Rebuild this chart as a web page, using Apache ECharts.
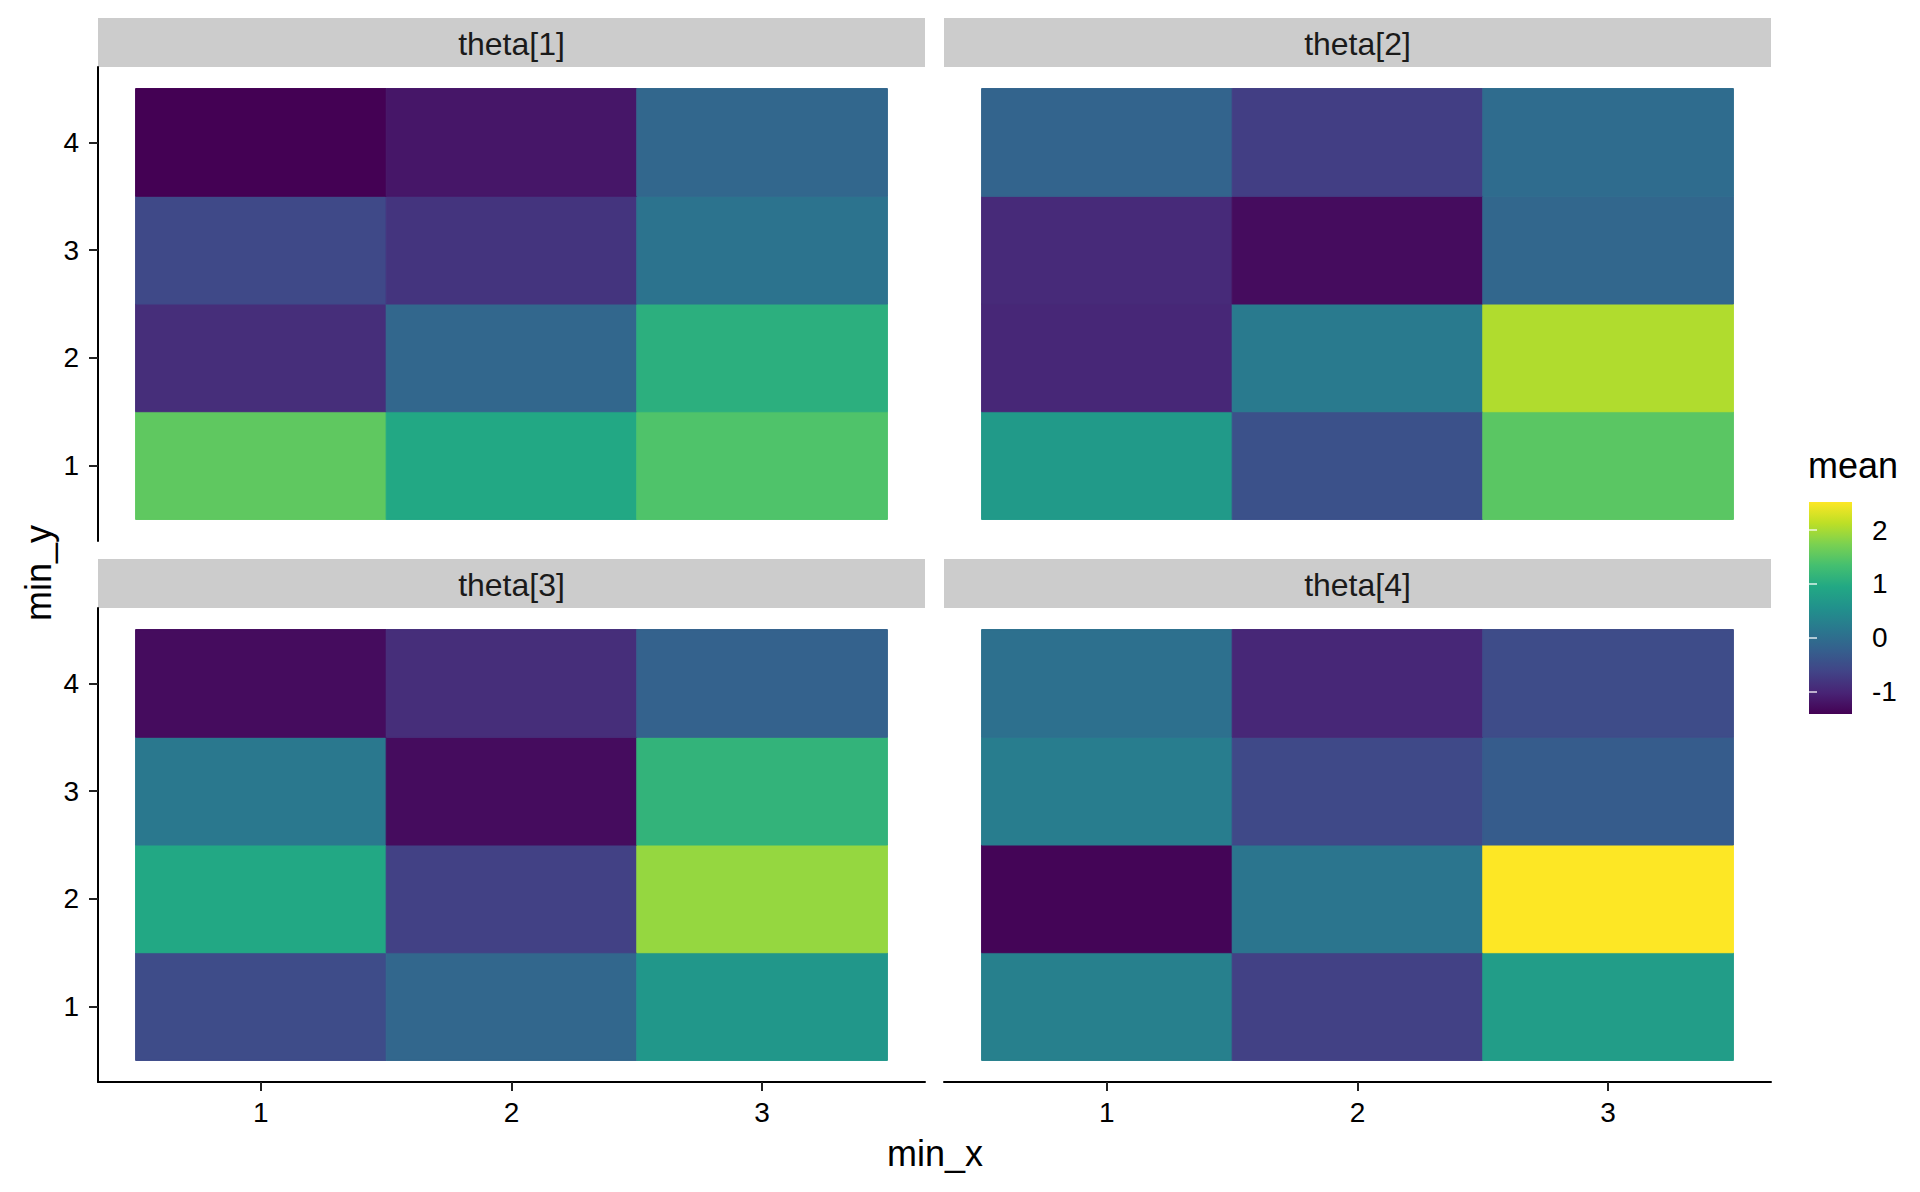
<!DOCTYPE html>
<html>
<head>
<meta charset="utf-8">
<title>mean by min_x / min_y</title>
<script src="https://cdn.jsdelivr.net/npm/echarts@6/dist/echarts.min.js"></script>
<style>
    html, body { margin: 0; padding: 0; background: #fff; }
    #chart { width: 1920px; height: 1192px; }
</style>
</head>
<body>
<div id="chart"></div>
<script>
// tick labels / categories
const xCats = [1, 2, 3];
const yCats = [1, 2, 3, 4];
const legendTicks = [-1, 0, 1, 2];
const panelNames = ['theta[1]', 'theta[2]', 'theta[3]', 'theta[4]'];

// mean values, one row per min_y (1..4), columns are min_x 1..3
const theta1 = [
    [1.54, 0.95, 1.42],
    [-0.90, -0.11, 1.06],
    [-0.55, -0.82, 0.08],
    [-1.41, -1.17, -0.11]
];
const theta2 = [
    [0.71, -0.43, 1.50],
    [-0.98, 0.20, 2.05],
    [-0.94, -1.29, -0.11],
    [-0.15, -0.70, -0.03]
];
const theta3 = [
    [-0.51, -0.11, 0.66],
    [0.95, -0.66, 1.89],
    [0.16, -1.29, 1.14],
    [-1.29, -0.90, -0.19]
];
const theta4 = [
    [0.28, -0.66, 0.76],
    [-1.37, 0.12, 2.52],
    [0.24, -0.55, -0.27],
    [0.04, -0.98, -0.51]
];
const panels = [theta1, theta2, theta3, theta4];

// viridis
const viridis = ['#440154', '#482475', '#414487', '#355F8D', '#2A788E', '#21918C',
    '#22A884', '#44BF70', '#7AD151', '#BDDF26', '#FDE725'];

const FONT = '"Liberation Sans", Arial, Helvetica, sans-serif';

// flatten to [x, y, value]
function toTiles(m) {
    let out = [];
    m.forEach(function (row, yi) {
        row.forEach(function (v, xi) {
            out.push([xCats[xi], yCats[yi], v]);
        });
    });
    return out;
}

let allVals = [];
panels.forEach(function (m) { m.forEach(function (r) { allVals = allVals.concat(r); }); });
const vMin = Math.min.apply(null, allVals);
const vMax = Math.max.apply(null, allVals);

// layout (px)
const colX = [98, 944];
const rowTop = [67, 608];
const panelW = 827;
const panelH = 474;
const stripH = 49;

let myChart = echarts.init(document.getElementById('chart'), null, { renderer: 'svg' });

let grids = [], xAxes = [], yAxes = [], series = [], graphics = [];

panels.forEach(function (m, i) {
    const col = i % 2, row = Math.floor(i / 2);
    grids.push({ left: colX[col], top: rowTop[row], width: panelW, height: panelH });

    xAxes.push({
        type: 'value', gridIndex: i, min: 0.35, max: 3.65,
        show: row === 1,
        splitLine: { show: false },
        axisLine: { show: true, onZero: false, lineStyle: { color: '#000', width: 2 } },
        axisTick: { show: true, customValues: xCats, length: 9, lineStyle: { color: '#222', width: 2 } },
        axisLabel: { customValues: xCats, margin: 16, fontSize: 28, color: '#000', fontFamily: FONT }
    });
    yAxes.push({
        type: 'value', gridIndex: i, min: 0.3, max: 4.7,
        show: col === 0,
        splitLine: { show: false },
        axisLine: { show: true, onZero: false, lineStyle: { color: '#000', width: 2 } },
        axisTick: { show: true, customValues: yCats, length: 9, lineStyle: { color: '#222', width: 2 } },
        axisLabel: { customValues: yCats, margin: 19, fontSize: 28, color: '#000', fontFamily: FONT }
    });

    series.push({
        type: 'custom',
        name: panelNames[i],
        xAxisIndex: i,
        yAxisIndex: i,
        data: toTiles(m),
        renderItem: function (params, api) {
            const x = api.value(0), y = api.value(1);
            const p0 = api.coord([x - 0.5, y + 0.5]);
            const p1 = api.coord([x + 0.5, y - 0.5]);
            const c = api.visual('color');
            return {
                type: 'rect',
                shape: { x: p0[0], y: p0[1], width: p1[0] - p0[0], height: p1[1] - p0[1] },
                style: { fill: c, stroke: c, lineWidth: 1 }
            };
        }
    });

    // facet strip
    graphics.push({
        type: 'rect',
        shape: { x: colX[col], y: rowTop[row] - stripH, width: panelW, height: stripH },
        style: { fill: '#CCCCCC' }
    });
    graphics.push({
        type: 'text',
        x: colX[col] + panelW / 2,
        y: rowTop[row] - stripH / 2 + 1,
        style: { text: panelNames[i], fontSize: 32, fontFamily: FONT, fill: '#1A1A1A', align: 'center', verticalAlign: 'middle' }
    });
});

// colour bar as its own small grid
const cb = grids.length;
grids.push({ left: 1809, top: 502, width: 43, height: 212 });
xAxes.push({ type: 'value', gridIndex: cb, min: 0, max: 1, show: false });
yAxes.push({
    type: 'value', gridIndex: cb, min: vMin, max: vMax, position: 'right', z: 10,
    splitLine: { show: false },
    axisLine: { show: false },
    axisTick: { show: true, inside: true, customValues: legendTicks, length: 8, lineStyle: { color: 'rgba(255,255,255,0.85)', width: 1.5 } },
    axisLabel: { customValues: legendTicks, margin: 20, fontSize: 28, color: '#000', fontFamily: FONT }
});
yAxes.push({
    type: 'value', gridIndex: cb, min: vMin, max: vMax, position: 'left', z: 10,
    splitLine: { show: false },
    axisLine: { show: false },
    axisTick: { show: true, inside: true, customValues: legendTicks, length: 8, lineStyle: { color: 'rgba(255,255,255,0.85)', width: 1.5 } },
    axisLabel: { show: false }
});
series.push({
    type: 'custom',
    xAxisIndex: cb,
    yAxisIndex: cb,
    z: 1,
    silent: true,
    data: [[0, vMin, vMax]],
    renderItem: function (params, api) {
        const p0 = api.coord([0, api.value(2)]);
        const p1 = api.coord([1, api.value(1)]);
        const stops = viridis.slice().reverse().map(function (c, k) {
            return { offset: k / (viridis.length - 1), color: c };
        });
        return {
            type: 'rect',
            shape: { x: p0[0], y: p0[1], width: p1[0] - p0[0], height: p1[1] - p0[1] },
            style: { fill: new echarts.graphic.LinearGradient(0, 0, 0, 1, stops) }
        };
    }
});

// axis titles + legend title
graphics.push({
    type: 'text', x: 935, y: 1153,
    style: { text: 'min_x', fontSize: 36, fontFamily: FONT, fill: '#000', align: 'center', verticalAlign: 'middle' }
});
graphics.push({
    type: 'text', x: 38, y: 573, rotation: Math.PI / 2,
    style: { text: 'min_y', fontSize: 36, fontFamily: FONT, fill: '#000', align: 'center', verticalAlign: 'middle' }
});
graphics.push({
    type: 'text', x: 1808, y: 465,
    style: { text: 'mean', fontSize: 36, fontFamily: FONT, fill: '#000', align: 'left', verticalAlign: 'middle' }
});

const option = {
    backgroundColor: '#fff',
    animation: false,
    grid: grids,
    xAxis: xAxes,
    yAxis: yAxes,
    visualMap: {
        show: false,
        type: 'continuous',
        seriesIndex: [0, 1, 2, 3],
        dimension: 2,
        min: vMin,
        max: vMax,
        inRange: { color: viridis }
    },
    graphic: graphics,
    series: series
};

myChart.setOption(option);
</script>
</body>
</html>
